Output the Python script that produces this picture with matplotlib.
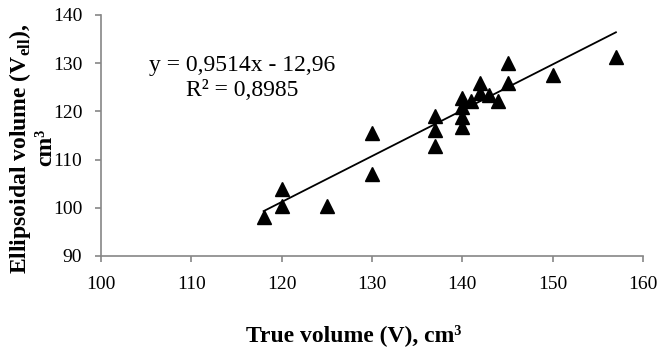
import matplotlib
matplotlib.use("Agg")
import matplotlib.pyplot as plt
import numpy as np

plt.rcParams['font.family'] = ['Liberation Serif', 'DejaVu Serif']
plt.rcParams['mathtext.fontset'] = 'custom'
plt.rcParams['mathtext.rm'] = 'Liberation Serif'
plt.rcParams['mathtext.bf'] = 'Liberation Serif:bold'

# measured points
true_vol = [118, 120, 120, 125, 130, 130, 137, 137, 137, 140, 140, 140, 140,
            141, 142, 142, 143, 144, 145, 145, 150, 157]
ell_vol = [98.1, 103.9, 100.4, 100.4, 115.5, 107.1, 119.0, 116.1, 112.9,
           122.8, 121.0, 118.8, 116.8, 122.2, 125.9, 123.8, 123.4, 122.2,
           130.0, 125.9, 127.5, 131.3]

slope, intercept = 0.9514, -12.96
eq_text = "y = 0,9514x - 12,96"
r2_text = "R² = 0,8985"

fig = plt.figure(figsize=(6.61, 3.5), dpi=100)
ax = fig.add_axes([0.1528, 0.2686, 0.8200, 0.6886])

ax.plot(true_vol, ell_vol, linestyle='none', marker='^', markersize=10,
        color='black')

xl = np.array([min(true_vol), max(true_vol)])
ax.plot(xl, slope * xl + intercept, color='black', linewidth=1.3)

ax.set_xlim(100, 160)
ax.set_ylim(90, 140)
ax.set_xticks(range(100, 161, 10))
ax.set_yticks(range(90, 141, 10))

grey = '#868686'
for s in ['top', 'right']:
    ax.spines[s].set_visible(False)
for s in ['left', 'bottom']:
    ax.spines[s].set_color(grey)
    ax.spines[s].set_linewidth(1.2)
ax.tick_params(axis='both', colors=grey, labelcolor='black', labelsize=14,
               length=4.5, width=1.2, direction='out')
ax.tick_params(axis='x', pad=10)
ax.tick_params(axis='y', pad=9)

fig.text(242 / 661, 1 - 66 / 350, eq_text, fontsize=17, ha='center',
         va='center')
fig.text(242 / 661, 1 - 91 / 350, r2_text, fontsize=17, ha='center',
         va='center')

fig.text(20 / 661, 1 - 149 / 350, r"Ellipsoidal volume (V$_{\mathbf{ell}}$),",
         rotation=90, ha='center', va='center', fontsize=17, fontweight='bold')
fig.text(46 / 661, 1 - 147 / 350, "cm³", rotation=90, ha='center',
         va='center', fontsize=17, fontweight='bold')
fig.text(354 / 661, 1 - 335 / 350, "True volume (V), cm³", ha='center',
         va='center', fontsize=17, fontweight='bold')

plt.savefig('out.png', dpi=100)
plt.close()
